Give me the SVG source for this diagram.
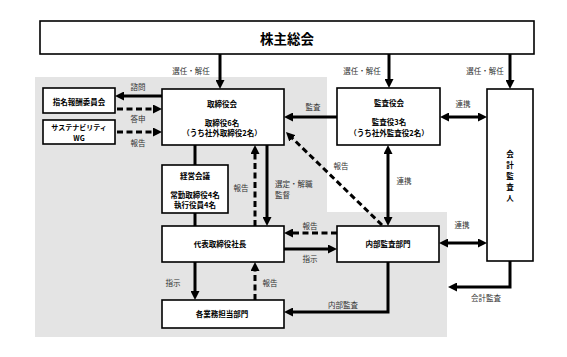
<svg xmlns="http://www.w3.org/2000/svg" width="567" height="357" viewBox="0 0 567 357">
<defs>
<style>
.bx{fill:#fff;stroke:#000;stroke-width:1.6}
.nt{font-family:"Noto Sans CJK JP","Noto Sans",sans-serif;font-size:7.5px;font-weight:bold;fill:#000;text-anchor:middle;dominant-baseline:central}
.lb{font-family:"Noto Sans CJK JP","Noto Sans",sans-serif;font-size:7.5px;fill:#333;text-anchor:middle;dominant-baseline:central}
.ln{fill:none;stroke:#000;stroke-width:3}
.dl{fill:none;stroke:#000;stroke-width:3;stroke-dasharray:6,3.5}
.ar{marker-end:url(#ah)}
.da{marker-start:url(#ah);marker-end:url(#ah)}
</style>
<marker id="ah" viewBox="0 0 9 9" refX="1" refY="4.5" markerWidth="9" markerHeight="9" markerUnits="userSpaceOnUse" orient="auto-start-reverse">
<path d="M0,0 L9,4.5 L0,9 z" fill="#000"/>
</marker>
</defs>
<rect width="567" height="357" fill="#fff"/>
<polygon points="35,77 327,77 327,212 447,212 447,337 35,337" fill="#e4e4e4"/>

<g id="connectors">
<line class="ln ar" x1="220" y1="54" x2="220" y2="81"/>
<line class="ln ar" x1="389" y1="54" x2="389" y2="80"/>
<line class="ln ar" x1="510" y1="54" x2="510" y2="81"/>
<line class="ln ar" x1="162" y1="96" x2="123" y2="96"/>
<line class="dl ar" x1="117" y1="109" x2="154" y2="109"/>
<line class="dl ar" x1="117" y1="132" x2="154" y2="132"/>
<line class="ln ar" x1="337" y1="117" x2="292" y2="117"/>
<line class="ln da" x1="448" y1="117" x2="479" y2="117"/>
<line class="ln" x1="195" y1="145" x2="195" y2="165"/>
<line class="ln" x1="195" y1="213" x2="195" y2="226"/>
<line class="dl ar" x1="255" y1="226" x2="255" y2="153"/>
<line class="ln ar" x1="267" y1="145" x2="267" y2="218"/>
<line class="dl ar" x1="382" y1="225" x2="291.7" y2="137.6"/>
<line class="ln da" x1="388" y1="153" x2="388" y2="218"/>
<line class="dl ar" x1="337" y1="233" x2="292" y2="233"/>
<line class="ln ar" x1="284" y1="249" x2="329" y2="249"/>
<line class="ln da" x1="447" y1="243" x2="479" y2="243"/>
<polyline class="ln ar" points="510,261 510,287 456,287"/>
<polyline class="ln ar" points="388,262 388,312 292,312"/>
<line class="ln ar" x1="195" y1="262" x2="195" y2="292"/>
<line class="dl ar" x1="255" y1="300" x2="255" y2="270"/>
</g>

<g id="labels">
<text class="lb" x="191" y="70">選任・解任</text>
<text class="lb" x="362" y="70">選任・解任</text>
<text class="lb" x="485" y="70">選任・解任</text>
<text class="lb" x="138" y="86">諮問</text>
<text class="lb" x="138" y="118">答申</text>
<text class="lb" x="138" y="142">報告</text>
<text class="lb" x="313" y="106">監査</text>
<text class="lb" x="463" y="103.5">連携</text>
<text class="lb" x="241" y="187">報告</text>
<text class="lb" x="275" y="183" style="text-anchor:start">選定・解職</text>
<text class="lb" x="275" y="194" style="text-anchor:start">監督</text>
<text class="lb" x="341" y="165">報告</text>
<text class="lb" x="404" y="180">連携</text>
<text class="lb" x="310" y="225">報告</text>
<text class="lb" x="310" y="258">指示</text>
<text class="lb" x="462" y="224">連携</text>
<text class="lb" x="486" y="297">会計監査</text>
<text class="lb" x="343" y="304">内部監査</text>
<text class="lb" x="173" y="282">指示</text>
<text class="lb" x="270" y="282">報告</text>
</g>

<g id="shareholders">
<rect class="bx" x="40" y="21" width="494" height="33"/>
<text class="nt" x="287" y="38" style="font-size:13.5px">株主総会</text>
</g>
<g id="nomination">
<rect class="bx" x="43" y="88" width="72" height="25"/>
<text class="nt" x="79" y="101">指名報酬委員会</text>
</g>
<g id="sustainability">
<rect class="bx" x="43" y="120" width="72" height="24"/>
<text class="nt" x="79" y="127" style="font-size:7px">サステナビリティ</text>
<text class="nt" x="79" y="138" style="font-size:7px">WG</text>
</g>
<g id="board">
<rect class="bx" x="162" y="89" width="122" height="56"/>
<text class="nt" x="222" y="103">取締役会</text>
<text class="nt" x="222" y="122">取締役6名</text>
<text class="nt" x="222" y="132.5">（うち社外取締役2名）</text>
</g>
<g id="auditors">
<rect class="bx" x="337" y="88" width="103" height="57"/>
<text class="nt" x="389" y="102">監査役会</text>
<text class="nt" x="389" y="121.5">監査役3名</text>
<text class="nt" x="389" y="132">（うち社外監査役2名）</text>
</g>
<g id="accounting-auditor">
<rect class="bx" x="487" y="89" width="46" height="172"/>
<text class="nt" x="510" y="153">会</text>
<text class="nt" x="510" y="164">計</text>
<text class="nt" x="510" y="175">監</text>
<text class="nt" x="510" y="186">査</text>
<text class="nt" x="510" y="197">人</text>
</g>
<g id="management-council">
<rect class="bx" x="162" y="165" width="66" height="48"/>
<text class="nt" x="195" y="175">経営会議</text>
<text class="nt" x="195" y="194">常勤取締役4名</text>
<text class="nt" x="195" y="204.5">執行役員4名</text>
</g>
<g id="president">
<rect class="bx" x="162" y="226" width="122" height="36"/>
<text class="nt" x="220" y="243.5">代表取締役社長</text>
</g>
<g id="internal-audit">
<rect class="bx" x="337" y="226" width="102" height="36"/>
<text class="nt" x="388" y="243.5">内部監査部門</text>
</g>
<g id="departments">
<rect class="bx" x="162" y="300" width="122" height="28"/>
<text class="nt" x="222" y="313.5">各業務担当部門</text>
</g>
</svg>
